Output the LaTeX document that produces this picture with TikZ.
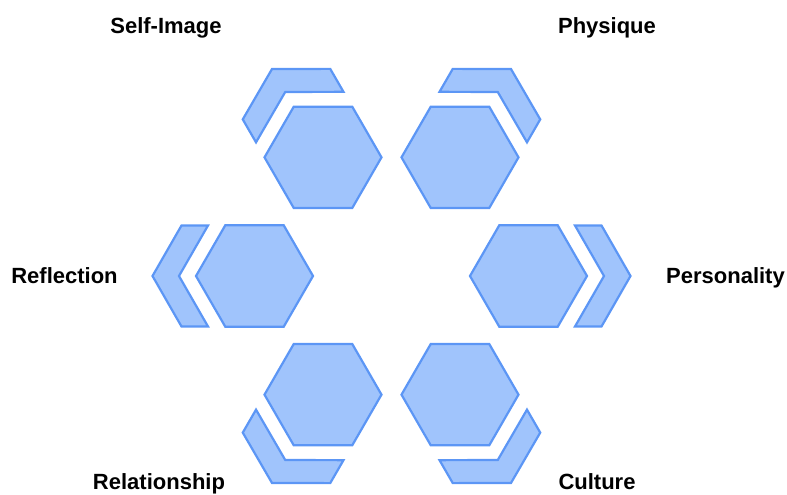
\documentclass[tikz,border=0pt]{standalone}
\usepackage{fontspec}
\setmainfont{Liberation Sans}
\usetikzlibrary{shapes.geometric}
\definecolor{hexfill}{RGB}{160,196,252}
\definecolor{hexline}{RGB}{92,150,245}

\begin{document}
\begin{tikzpicture}[x=1pt, y=1pt,
    hexa/.style={regular polygon, regular polygon sides=6, draw=hexline,
      fill=hexfill, line width=2.2pt, minimum size=117pt, inner sep=0pt},
    band/.style={draw=hexline, fill=hexfill, line width=2.2pt},
    chev/.pic={\draw[band] (102,0) -- (73,50.5) -- (46.5,50.5) -- (75.5,0)
      -- (46.5,-50.5) -- (73,-50.5) -- cycle;},
    lbl/.style={font=\fontsize{22}{26}\selectfont\bfseries, anchor=base}
  ]
  \useasboundingbox (0,0) rectangle (787,495);
  \coordinate (mid) at (391.5,219);

  % hexagons round the middle
  \node[hexa] (selfimg) at ([shift={(120:137)}]mid) {};
  \node[hexa] (physique) at ([shift={(60:137)}]mid) {};
  \node[hexa] (reflection) at ([shift={(180:137)}]mid) {};
  \node[hexa] (personality) at ([shift={(0:137)}]mid) {};
  \node[hexa] (relation) at ([shift={(240:137)}]mid) {};
  \node[hexa] (culture) at ([shift={(300:137)}]mid) {};

  % outer brackets
  \pic[rotate=120] at (selfimg.center) {chev};
  \pic[rotate=60] at (physique.center) {chev};
  \pic[rotate=180] at (reflection.center) {chev};
  \pic[rotate=0] at (personality.center) {chev};
  \pic[rotate=240] at (relation.center) {chev};
  \pic[rotate=300] at (culture.center) {chev};

  % labels
  \node[lbl] (lselfimg) at (166,461) {Self-Image};
  \node[lbl] (lphysique) at (607,461) {Physique};
  \node[lbl] (lreflection) at (64.5,211) {Reflection};
  \node[lbl] (lpersonality) at (725.5,211) {Personality};
  \node[lbl] (lrelation) at (159,5) {Relationship};
  \node[lbl] (lculture) at (597,5) {Culture};
\end{tikzpicture}
\end{document}
